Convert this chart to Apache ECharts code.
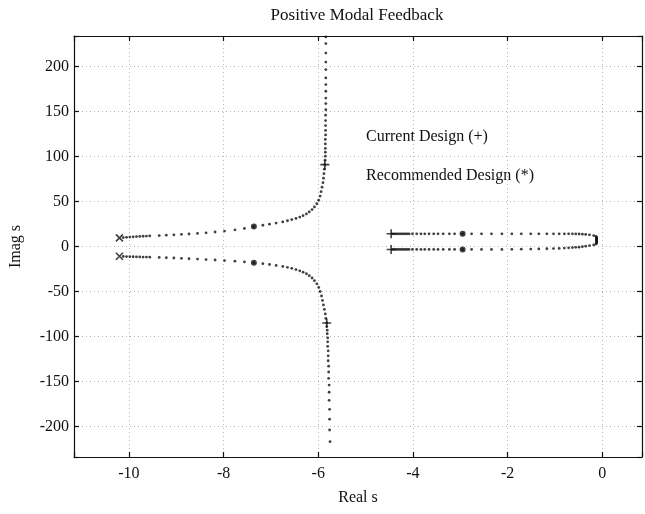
<!DOCTYPE html>
<html>
<head>
<meta charset="utf-8">
<title>Positive Modal Feedback</title>
<script src="https://cdn.jsdelivr.net/npm/echarts@6/dist/echarts.min.js"></script>
<style>
html, body { margin: 0; padding: 0; background: #fff; }
#chart { width: 645px; height: 514px; }
</style>
</head>
<body>
<div id="chart"></div>
<script>
// tick labels
const xTicks = [-10, -8, -6, -4, -2, 0];
const yTicks = [-200, -150, -100, -50, 0, 50, 100, 150, 200];

// locus branches [real, imag]
const upperLeft = [
  [-10.12, 9.9], [-10.05, 10.2], [-9.98, 10.5], [-9.91, 10.8], [-9.84, 11.0], [-9.77, 11.2],
  [-9.70, 11.4], [-9.63, 11.6], [-9.56, 11.8], [-9.36, 12.2], [-9.21, 12.6], [-9.05, 13.0],
  [-8.89, 13.5], [-8.73, 13.9], [-8.55, 14.5], [-8.37, 15.2], [-8.18, 16.1], [-7.98, 17.2],
  [-7.76, 18.5], [-7.56, 20.0], [-7.36, 22.2], [-7.17, 23.6], [-7.03, 24.8], [-6.89, 26.0],
  [-6.75, 27.3], [-6.65, 28.6], [-6.56, 29.9], [-6.47, 31.2], [-6.39, 32.7], [-6.32, 34.3],
  [-6.25, 36.2], [-6.19, 38.4], [-6.13, 41], [-6.08, 44], [-6.03, 47.5], [-5.99, 51.5],
  [-5.96, 56], [-5.94, 61], [-5.92, 66], [-5.90, 71], [-5.89, 76], [-5.88, 81], [-5.87, 86],
  [-5.86, 91], [-5.855, 96], [-5.85, 100.4], [-5.85, 104.8], [-5.85, 109], [-5.85, 114],
  [-5.85, 119], [-5.845, 124], [-5.845, 129], [-5.845, 134.4], [-5.845, 140], [-5.845, 146],
  [-5.84, 152], [-5.84, 158.9], [-5.84, 165], [-5.84, 172.6], [-5.84, 180], [-5.84, 187.4],
  [-5.84, 196.7], [-5.84, 205], [-5.84, 215], [-5.84, 225.6], [-5.84, 233]
];
const lowerLeft = [
  [-10.12, -11.0], [-10.05, -11.2], [-9.98, -11.3], [-9.91, -11.4], [-9.84, -11.5], [-9.77, -11.6],
  [-9.70, -11.7], [-9.63, -11.8], [-9.56, -11.9], [-9.36, -12.2], [-9.21, -12.5], [-9.05, -12.8],
  [-8.89, -13.2], [-8.73, -13.6], [-8.55, -14.0], [-8.37, -14.5], [-8.18, -15.0], [-7.98, -15.6],
  [-7.76, -16.3], [-7.56, -17.1], [-7.36, -18.1], [-7.17, -19.1], [-7.03, -20.0], [-6.89, -21.0],
  [-6.75, -22.1], [-6.65, -23.1], [-6.56, -24.3], [-6.47, -25.6], [-6.39, -27.0], [-6.32, -28.5],
  [-6.25, -30.3], [-6.19, -32.4], [-6.13, -35], [-6.08, -38], [-6.03, -41.5], [-5.99, -45.5],
  [-5.96, -50], [-5.93, -55], [-5.91, -60], [-5.89, -65], [-5.87, -70], [-5.85, -75], [-5.84, -80],
  [-5.82, -85], [-5.82, -89], [-5.81, -93], [-5.81, -97], [-5.80, -101.5], [-5.80, -106],
  [-5.80, -111], [-5.79, -116], [-5.79, -121.5], [-5.79, -127], [-5.78, -133], [-5.78, -139.5],
  [-5.78, -146.5], [-5.77, -154], [-5.77, -162], [-5.77, -171], [-5.76, -181], [-5.76, -192],
  [-5.76, -204], [-5.75, -217]
];
const upperRight = [
  [-4.44, 14.1], [-4.40, 14.1], [-4.36, 14.1], [-4.32, 14.1], [-4.28, 14.1], [-4.24, 14.1],
  [-4.20, 14.1], [-4.16, 14.1], [-4.12, 14.1], [-4.08, 14.1], [-4.01, 14.1], [-3.92, 14.1],
  [-3.83, 14.1], [-3.75, 14.1], [-3.66, 14.1], [-3.56, 14.1], [-3.47, 14.1], [-3.36, 14.1],
  [-3.23, 14.1], [-3.12, 14.1], [-2.95, 14.1], [-2.76, 14.1], [-2.55, 14.1], [-2.34, 14.1],
  [-2.12, 14.1], [-1.91, 14.1], [-1.71, 14.1], [-1.51, 14.1], [-1.34, 14.1], [-1.17, 14.1],
  [-1.03, 14.1], [-0.91, 14.1], [-0.80, 14.1], [-0.71, 14.1], [-0.63, 14.1], [-0.56, 14.0],
  [-0.49, 13.9], [-0.42, 13.7], [-0.35, 13.4], [-0.27, 13.0], [-0.18, 12.2], [-0.13, 11.2],
  [-0.12, 10.2], [-0.12, 9.2], [-0.12, 8.2]
];
const lowerRight = [
  [-4.44, -3.3], [-4.40, -3.3], [-4.36, -3.3], [-4.32, -3.3], [-4.28, -3.3], [-4.24, -3.3],
  [-4.20, -3.3], [-4.16, -3.3], [-4.12, -3.3], [-4.08, -3.3], [-4.01, -3.3], [-3.92, -3.3],
  [-3.83, -3.3], [-3.75, -3.3], [-3.66, -3.3], [-3.56, -3.3], [-3.47, -3.3], [-3.36, -3.3],
  [-3.23, -3.3], [-3.12, -3.3], [-2.95, -3.3], [-2.76, -3.3], [-2.55, -3.3], [-2.34, -3.3],
  [-2.12, -3.2], [-1.91, -3.1], [-1.71, -3.0], [-1.51, -2.9], [-1.34, -2.7], [-1.17, -2.5],
  [-1.03, -2.3], [-0.91, -2.1], [-0.80, -1.8], [-0.71, -1.5], [-0.63, -1.2], [-0.56, -0.9],
  [-0.49, -0.7], [-0.42, -0.2], [-0.35, 0.4], [-0.27, 1.0], [-0.18, 1.8], [-0.13, 2.8],
  [-0.12, 3.8], [-0.12, 4.8], [-0.12, 5.8], [-0.12, 6.8], [-0.12, 7.6]
];
// markers
const currentDesign = [[-5.86, 91], [-5.82, -85], [-4.46, 14.1], [-4.46, -3.3]];
const recommendedDesign = [[-7.36, 22.2], [-7.36, -18.1], [-2.95, 14.1], [-2.95, -3.3]];
const openLoopPoles = [[-10.2, 9.6], [-10.2, -10.8]];

const serif = "'Liberation Serif', 'DejaVu Serif', serif";
const ink = '#111';

function axisBase(minV, maxV, step, ticks) {
  return {
    type: 'value', min: minV, max: maxV, minInterval: step, maxInterval: step,
    axisLine: { show: true, onZero: false, lineStyle: { color: ink, width: 1.2 } },
    axisTick: { show: true, inside: true, length: 5, lineStyle: { color: ink, width: 1.2 } },
    axisLabel: {
      show: true, color: ink, fontFamily: serif, fontSize: 16,
      formatter: v => (ticks.some(t => Math.abs(t - v) < 1e-6) ? String(v) : '')
    },
    splitLine: { show: true, lineStyle: { color: '#b8b8b8', width: 1, type: [1, 3] } }
  };
}

const chart = echarts.init(document.getElementById('chart'));

const xBottom = axisBase(-11.16, 0.84, 2, xTicks);
xBottom.position = 'bottom';
xBottom.axisLabel.margin = 9;
xBottom.name = 'Real s';
xBottom.nameLocation = 'middle';
xBottom.nameGap = 33;
xBottom.nameTextStyle = { color: ink, fontFamily: serif, fontSize: 16 };

const xTop = axisBase(-11.16, 0.84, 2, xTicks);
xTop.position = 'top';
xTop.axisLabel.show = false;
xTop.splitLine.show = false;

const yLeft = axisBase(-234, 234, 50, yTicks);
yLeft.position = 'left';
yLeft.axisLabel.margin = 5;
yLeft.name = 'Imag s';
yLeft.nameLocation = 'middle';
yLeft.nameGap = 50;
yLeft.nameTextStyle = { color: ink, fontFamily: serif, fontSize: 16 };

const yRight = axisBase(-234, 234, 50, yTicks);
yRight.position = 'right';
yRight.axisLabel.show = false;
yRight.splitLine.show = false;

function dots(data) {
  return {
    type: 'scatter', data: data, symbol: 'circle', symbolSize: 2.8,
    itemStyle: { color: ink }, silent: true, z: 3
  };
}

chart.setOption({
  animation: false,
  backgroundColor: '#fff',
  grid: { left: 74, right: 2, top: 36, bottom: 57 },
  xAxis: [xBottom, xTop],
  yAxis: [yLeft, yRight],
  graphic: [
    { type: 'text', x: 357, y: 16, style: { text: 'Positive Modal Feedback', font: '17px ' + serif, fill: ink, textAlign: 'center', textVerticalAlign: 'middle' } },
    { type: 'text', x: 366, y: 137, style: { text: 'Current Design (+)', font: '16px ' + serif, fill: ink, textAlign: 'left', textVerticalAlign: 'middle' } },
    { type: 'text', x: 366, y: 176, style: { text: 'Recommended Design (*)', font: '16px ' + serif, fill: ink, textAlign: 'left', textVerticalAlign: 'middle' } }
  ],
  series: [
    dots(upperLeft), dots(lowerLeft), dots(upperRight), dots(lowerRight),
    {
      type: 'scatter', data: recommendedDesign, symbol: 'circle', symbolSize: 6,
      itemStyle: { color: ink }, silent: true, z: 4
    },
    {
      type: 'scatter', data: currentDesign, symbol: 'path://M5,0L5,10M0,5L10,5', symbolSize: 9,
      itemStyle: { color: 'none', borderColor: ink, borderWidth: 1.6 }, silent: true, z: 4
    },
    {
      type: 'scatter', data: openLoopPoles, symbol: 'path://M0,0L10,10M10,0L0,10', symbolSize: 7,
      itemStyle: { color: 'none', borderColor: ink, borderWidth: 1.6 }, silent: true, z: 4
    }
  ]
});
</script>
</body>
</html>
